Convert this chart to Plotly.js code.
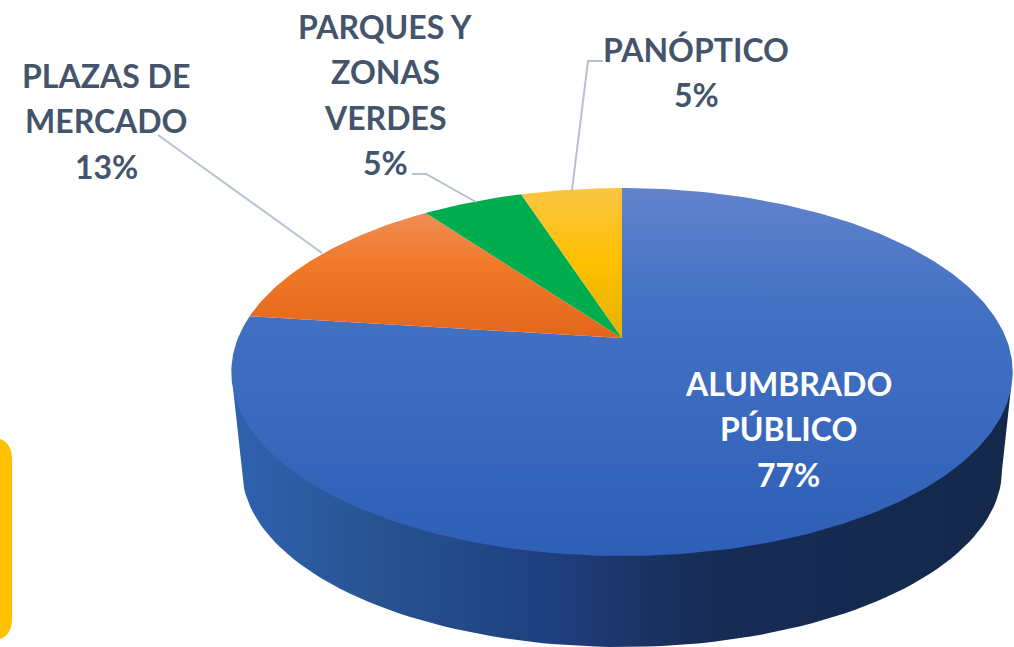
<!DOCTYPE html>
<html>
<head>
<meta charset="utf-8">
<script src="https://cdn.plot.ly/plotly-3.0.1.min.js"></script>
<style>html,body{margin:0;padding:0;background:#fff;overflow:hidden}#chart{width:1014px;height:647px}</style>
</head>
<body>
<div id="chart"></div>
<script>
// ---- data ----
const categories = ['ALUMBRADO PÚBLICO', 'PLAZAS DE MERCADO', 'PARQUES Y ZONAS VERDES', 'PANÓPTICO'];
const values = [77, 13, 5, 5];
const labelLines = [['ALUMBRADO', 'PÚBLICO', '77%'], ['PLAZAS DE', 'MERCADO', '13%'], ['PARQUES Y', 'ZONAS', 'VERDES', '5%'], ['PANÓPTICO', '5%']];

// ---- presentation ----
const labelX = [788, 106, 385, 696];
const labelTopY = [383, 75, 26, 49];
const labelStep = 45.6;
const labelColor = ['#ffffff', '#44546a', '#44546a', '#44546a'];
const sliceGradients = [
  [[0, '#6283cc'], [0.3, '#4472c4'], [1, '#2e5fb6']],
  [[0, '#ef8d57'], [0.4, '#f17a2a'], [1, '#e3661b']],
  [[0, '#00ad4e'], [1, '#00ad4e']],
  [[0, '#fcc544'], [0.5, '#ffc000'], [1, '#e3b200']]
];
const leaderX = [[158, 322], [412, 426, 476], [603, 588, 572]];
const leaderY = [[135, 253], [174, 174, 202], [61, 61, 190]];
const wallGradient = [[0, '#2f62b0'], [0.2, '#27528f'], [0.4, '#1f4080'], [0.6, '#172c56'], [1, '#14284b']];

// Perspective view of the disc: parameters fitted to the picture
const cx = 622, apexY = 338, R = 384, H = 177.7, k = 0.1848;
function rim(theta) { // theta clockwise from the top of the pie
  const u = Math.sin(theta), v = Math.cos(theta), w = 1 + k * v;
  return [cx + R * u / w, apexY - H * v / w];
}

const traces = [];

// Side wall of the disc
const wallX = [], wallY = [];
wallX.push(233); wallY.push(388);
for (let a = 0; a <= 180; a += 2) {
  const t = a * Math.PI / 180;
  wallX.push(cx - 380 * Math.cos(t)); wallY.push(470 + 177 * Math.sin(t));
}
wallX.push(1011); wallY.push(388);
wallX.push(233); wallY.push(388);
traces.push({
  type: 'scatter', mode: 'lines', x: wallX, y: wallY, fill: 'toself',
  line: { width: 0 }, hoverinfo: 'skip', showlegend: false,
  fillgradient: { type: 'horizontal', start: 231, stop: 1014, colorscale: wallGradient }
});

// Slices
const total = values.reduce((a, b) => a + b, 0);
let acc = 0;
values.forEach((v, i) => {
  const a0 = acc / total * 2 * Math.PI;
  acc += v;
  const a1 = acc / total * 2 * Math.PI;
  const xs = [cx], ys = [apexY];
  const n = Math.max(12, Math.ceil(v * 4));
  for (let j = 0; j <= n; j++) {
    const p = rim(a0 + (a1 - a0) * j / n);
    xs.push(p[0]); ys.push(p[1]);
  }
  xs.push(cx); ys.push(apexY);
  const top = Math.min.apply(null, ys), bottom = Math.max.apply(null, ys);
  traces.push({
    type: 'scatter', mode: 'lines', name: categories[i], x: xs, y: ys, fill: 'toself',
    line: { width: 0 }, showlegend: false, hoverinfo: 'name',
    fillgradient: { type: 'vertical', start: top, stop: bottom, colorscale: sliceGradients[i] }
  });
});

// Leader lines
leaderX.forEach((lx, i) => {
  traces.push({
    type: 'scatter', mode: 'lines', x: lx, y: leaderY[i],
    line: { color: '#b6c1d1', width: 2 }, hoverinfo: 'skip', showlegend: false
  });
});

// Labels
const annotations = [];
labelLines.forEach((lines, i) => {
  lines.forEach((t, j) => {
    annotations.push({
      xref: 'x', yref: 'y', x: labelX[i], y: labelTopY[i] + j * labelStep,
      text: t, showarrow: false, xanchor: 'center', yanchor: 'middle',
      font: { family: 'Lato, "Open Sans", sans-serif', size: 32, weight: 700, color: labelColor[i] }
    });
  });
});

const layout = {
  width: 1014, height: 647,
  margin: { l: 0, r: 0, t: 0, b: 0 },
  paper_bgcolor: '#ffffff', plot_bgcolor: '#ffffff',
  showlegend: false,
  xaxis: { range: [0, 1014], visible: false, fixedrange: true },
  yaxis: { range: [647, 0], visible: false, fixedrange: true },
  annotations: annotations,
  shapes: [{
    type: 'path', xref: 'x', yref: 'y', layer: 'below',
    path: 'M -30 438 L -8 438 Q 12 438 12 460 L 12 618 Q 12 640 -8 640 L -30 640 Z',
    fillcolor: '#ffc000', line: { width: 0 }
  }]
};

Plotly.newPlot('chart', traces, layout, { displayModeBar: false, staticPlot: false });
</script>
</body>
</html>
